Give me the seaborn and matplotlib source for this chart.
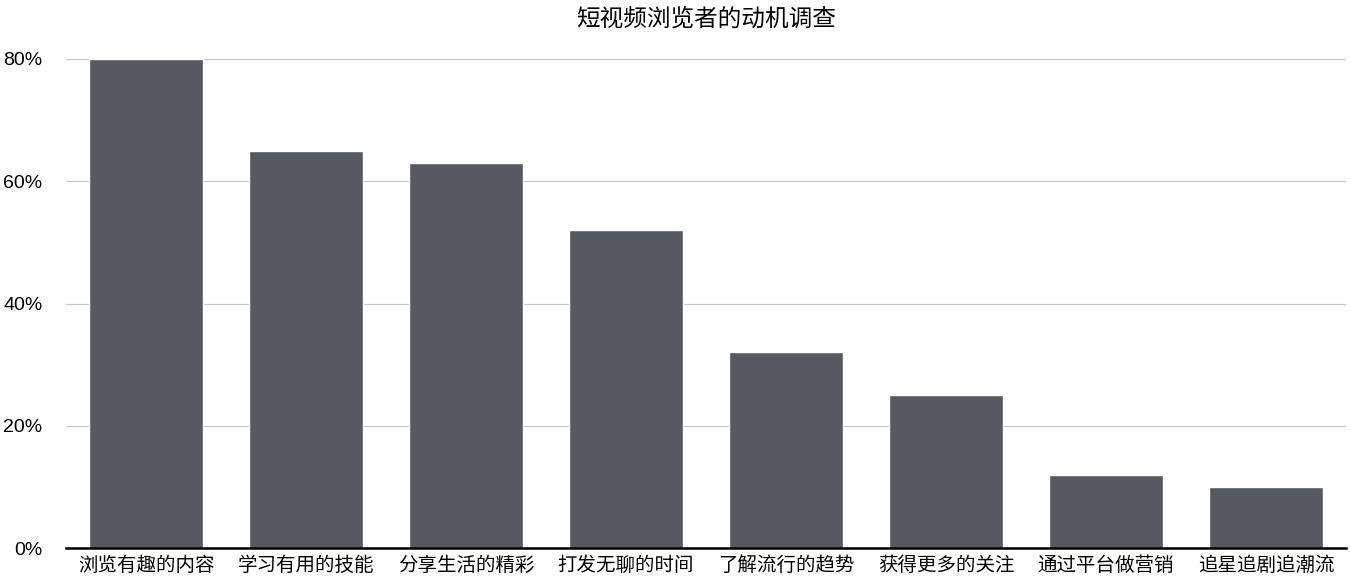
import matplotlib
matplotlib.use("Agg")
import matplotlib.pyplot as plt
import seaborn as sns
import pandas as pd
from matplotlib.ticker import FuncFormatter

categories = ["浏览有趣的内容", "学习有用的技能", "分享生活的精彩", "打发无聊的时间",
              "了解流行的趋势", "获得更多的关注", "通过平台做营销", "追星追剧追潮流"]
values = [80, 65, 63, 52, 32, 25, 12, 10]
yticks = [0, 20, 40, 60, 80]
title = "短视频浏览者的动机调查"

sns.set_theme(style="white")
plt.rcParams['font.family'] = ['Noto Sans CJK SC', 'DejaVu Sans']

df = pd.DataFrame({"cat": categories, "val": values})
fig = plt.figure(figsize=(13.5, 5.84), dpi=100)
ax = fig.add_axes([0.0489, 0.0616, 0.9481, 0.8374])
sns.barplot(data=df, x="cat", y="val", color="#555a61", saturation=1, width=0.71, ax=ax)
ax.set_xlim(-0.5, len(categories) - 0.5)
ax.set_ylim(0, 80)
ax.set_yticks(yticks)
ax.yaxis.set_major_formatter(FuncFormatter(lambda v, p: f"{int(v)}%"))
ax.grid(axis="y", color="#c8c8c8", linewidth=0.9)
ax.set_axisbelow(True)
for s in ["top", "right", "left"]:
    ax.spines[s].set_visible(False)
ax.spines["bottom"].set_color("black")
ax.spines["bottom"].set_linewidth(1.8)
ax.spines["bottom"].set_zorder(5)
ax.tick_params(axis="both", length=0, colors="black")
ax.tick_params(axis="y", pad=17, labelsize=14)
ax.tick_params(axis="x", pad=5, labelsize=14)
for lab in ax.get_yticklabels():
    lab.set_fontfamily(['Liberation Sans', 'DejaVu Sans'])
ax.set_xlabel("")
ax.set_ylabel("")
ax.text(0.5, 0.968, title, transform=matplotlib.transforms.blended_transform_factory(ax.transAxes, fig.transFigure),
        ha="center", va="center", fontsize=17, color="black")
fig.savefig("out.png", dpi=100)
